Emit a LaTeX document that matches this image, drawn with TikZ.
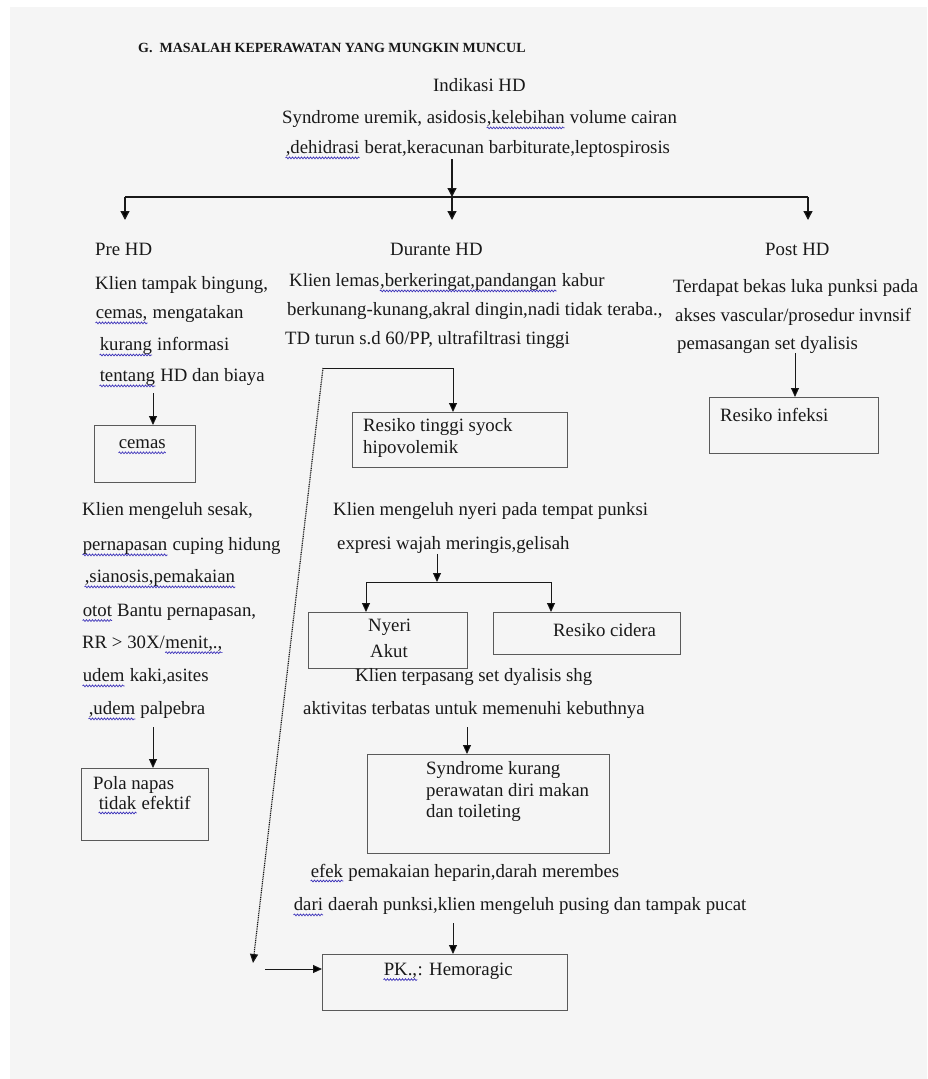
\documentclass[tikz,border=0pt]{standalone}
\usepackage{fontspec}
\setmainfont{Liberation Serif}
\usetikzlibrary{arrows.meta,decorations.pathmorphing}
\definecolor{pagegray}{RGB}{245,245,245}
\definecolor{boxgray}{RGB}{90,90,90}
\definecolor{inkcol}{RGB}{25,25,25}
\definecolor{wavecol}{RGB}{60,50,185}
% spell-check squiggle under a word
\newcommand\wv[1]{\tikz[baseline=(w.base)]{\node[inner sep=0pt,text depth=3.8pt] (w) {#1};
  \draw[wavecol,line width=0.7pt,decorate,decoration={snake,amplitude=0.9pt,segment length=3pt}] (w.south west) -- (w.south east);}}
\tikzset{
  txt/.style={anchor=west,inner sep=0pt,text=inkcol,font=\fontsize{18.8}{22}\selectfont},
  boxnode/.style={draw=boxgray,line width=1pt,anchor=north west,inner sep=0pt},
  arr/.style={draw=inkcol,line width=1.3pt,-{Triangle[width=9pt,length=9pt]}},
  thinarr/.style={draw=inkcol,line width=1pt,-{Triangle[width=8pt,length=9pt]}},
}
\begin{document}
\begin{tikzpicture}[x=1pt,y=1pt,yscale=-1]
\useasboundingbox (0,0) rectangle (927,1079);
\fill[white] (0,0) rectangle (927,1079);
\fill[pagegray] (10,7) rectangle (927,1079);

% Title
\node[txt,font=\fontsize{14}{16}\selectfont\bfseries] (title) at (138,48) {G.\ \ MASALAH KEPERAWATAN YANG MUNGKIN MUNCUL};

% Indikasi HD
\node[txt] (ind1) at (433,85) {Indikasi HD};
\node[txt] (ind2) at (282,120) {Syndrome uremik, asidosis\wv{,kelebihan} volume cairan};
\node[txt] (ind3) at (285,150) {\wv{,dehidrasi} berat,keracunan barbiturate,leptospirosis};

%Straight Lines: split to the three phases
\coordinate (split) at (452,197);
\coordinate (splitL) at (125,197);
\coordinate (splitR) at (808,197);
\draw[arr] (ind3.south -| split) -- (split);
\draw[draw=inkcol,line width=1.3pt] (splitL) -- (splitR);
\draw[arr] (splitL) -- ++(0,23);
\draw[arr] (split) -- ++(0,23);
\draw[arr] (splitR) -- ++(0,23);

% Text Node: phases
\node[txt] (pre) at (95,249) {Pre HD};
\node[txt] (dur) at (390,249) {Durante HD};
\node[txt] (post) at (765,249) {Post HD};

% Pre HD
\node[txt] (pre1) at (95,285) {Klien tampak bingung,};
\node[txt] (pre2) at (95,315) {\wv{cemas,} mengatakan};
\node[txt] (pre3) at (99,347) {\wv{kurang} informasi};
\node[txt] (pre4) at (99,378) {\wv{tentang} HD dan biaya};
\node[boxnode,minimum width=101,minimum height=57] (cemasbox) at (94,425) {};
\node[txt] (cemas) at (118,447) {\wv{cemas}};
\coordinate (preArr) at (153,393);
\draw[thinarr] (preArr) -- (preArr |- cemasbox.north);

% Durante HD
\node[txt] (dur1) at (289,283) {Klien lemas\wv{,berkeringat,pandangan} kabur};
\node[txt] (dur2) at (287,311) {berkunang-kunang,akral dingin,nadi tidak teraba.,};
\node[txt] (dur3) at (285,340) {TD turun s.d 60/PP, ultrafiltrasi tinggi};
\node[boxnode,minimum width=215,minimum height=55] (syockbox) at (352,412) {};
\node[txt] (syock1) at (363,427) {Resiko tinggi syock};
\node[txt] (syock2) at (363,449) {hipovolemik};
\coordinate (durElbow) at (323,368);
\coordinate (durTurn) at (453,368);
\draw[thinarr] (durElbow) -- (durTurn) -- (durTurn |- syockbox.north);

% Post HD
\node[txt] (post1) at (673,288) {Terdapat bekas luka punksi pada};
\node[txt] (post2) at (675,317) {akses vascular/prosedur invnsif};
\node[txt] (post3) at (677,345) {pemasangan set dyalisis};
\node[boxnode,minimum width=169,minimum height=56] (infbox) at (709,397) {};
\node[txt] (inf) at (720,415) {Resiko infeksi};
\coordinate (postArr) at (795,353);
\draw[thinarr] (postArr) -- (postArr |- infbox.north);

% Nyeri
\node[txt] (nyeri1) at (333,511) {Klien mengeluh nyeri pada tempat punksi};
\node[txt] (nyeri2) at (337,545) {expresi wajah meringis,gelisah};
\node[boxnode,minimum width=159,minimum height=56] (akutbox) at (308,612) {};
\node[txt] (akut1) at (368,627) {Nyeri};
\node[txt] (akut2) at (370,651) {Akut};
\node[boxnode,minimum width=187,minimum height=42] (ciderabox) at (493,612) {};
\node[txt] (cidera) at (553,630) {Resiko cidera};
\coordinate (nyeriSplit) at (437,582);
\coordinate (nyeriL) at (366,582);
\coordinate (nyeriR) at (551,582);
\draw[thinarr] (nyeri2.south -| nyeriSplit) -- (nyeriSplit);
\draw[draw=inkcol,line width=1pt] (nyeriL) -- (nyeriR);
\draw[thinarr] (nyeriL) -- (nyeriL |- akutbox.north);
\draw[thinarr] (nyeriR) -- (nyeriR |- ciderabox.north);

% Dyalisis
\node[txt] (dyal1) at (355,677) {Klien terpasang set dyalisis shg};
\node[txt] (dyal2) at (303,710) {aktivitas terbatas untuk memenuhi kebuthnya};
\node[boxnode,minimum width=242,minimum height=99] (rawatbox) at (367,754) {};
\node[txt] (rawat1) at (426,770) {Syndrome kurang};
\node[txt] (rawat2) at (426,792) {perawatan diri makan};
\node[txt] (rawat3) at (426,813) {dan toileting};
\coordinate (dyalArr) at (467,727);
\draw[thinarr] (dyalArr) -- (dyalArr |- rawatbox.north);

% Sesak
\node[txt] (sesak1) at (82,511) {Klien mengeluh sesak,};
\node[txt] (sesak2) at (82,547) {\wv{pernapasan} cuping hidung};
\node[txt] (sesak3) at (84,579) {\wv{,sianosis,pemakaian}};
\node[txt] (sesak4) at (82,613) {\wv{otot} Bantu pernapasan,};
\node[txt] (sesak5) at (82,645) {RR > 30X/\wv{menit,.,}};
\node[txt] (sesak6) at (82,678) {\wv{udem} kaki,asites};
\node[txt] (sesak7) at (88,711) {\wv{,udem} palpebra};
\node[boxnode,minimum width=127,minimum height=72] (polabox) at (81,768) {};
\node[txt] (pola1) at (93,785) {Pola napas};
\node[txt] (pola2) at (98,805) {\wv{tidak} efektif};
\coordinate (sesakArr) at (153,727);
\draw[thinarr] (sesakArr) -- (sesakArr |- polabox.north);

% Heparin
\node[txt] (hep1) at (310,873) {\wv{efek} pemakaian heparin,darah merembes};
\node[txt] (hep2) at (293,907) {\wv{dari} daerah punksi,klien mengeluh pusing dan tampak pucat};
\node[boxnode,minimum width=245,minimum height=56] (hemobox) at (322,954) {};
\node[txt] (hemo) at (383,972) {\wv{PK.,}: Hemoragic};
\coordinate (hepArr) at (453,923);
\draw[thinarr] (hepArr) -- (hepArr |- hemobox.north);
\coordinate (hemoIn) at (265,969);
\draw[thinarr] (hemoIn) -- (hemoIn -| hemobox.west);

%Dotted Lines: shock signs also lead to bleeding
\coordinate (dotEnd) at (253,963);
\draw[draw=inkcol,line width=1.2pt,dash pattern=on 1pt off 0.8pt,-{Triangle[width=8pt,length=9pt]}] (durElbow) -- (dotEnd);
\end{tikzpicture}
\end{document}
